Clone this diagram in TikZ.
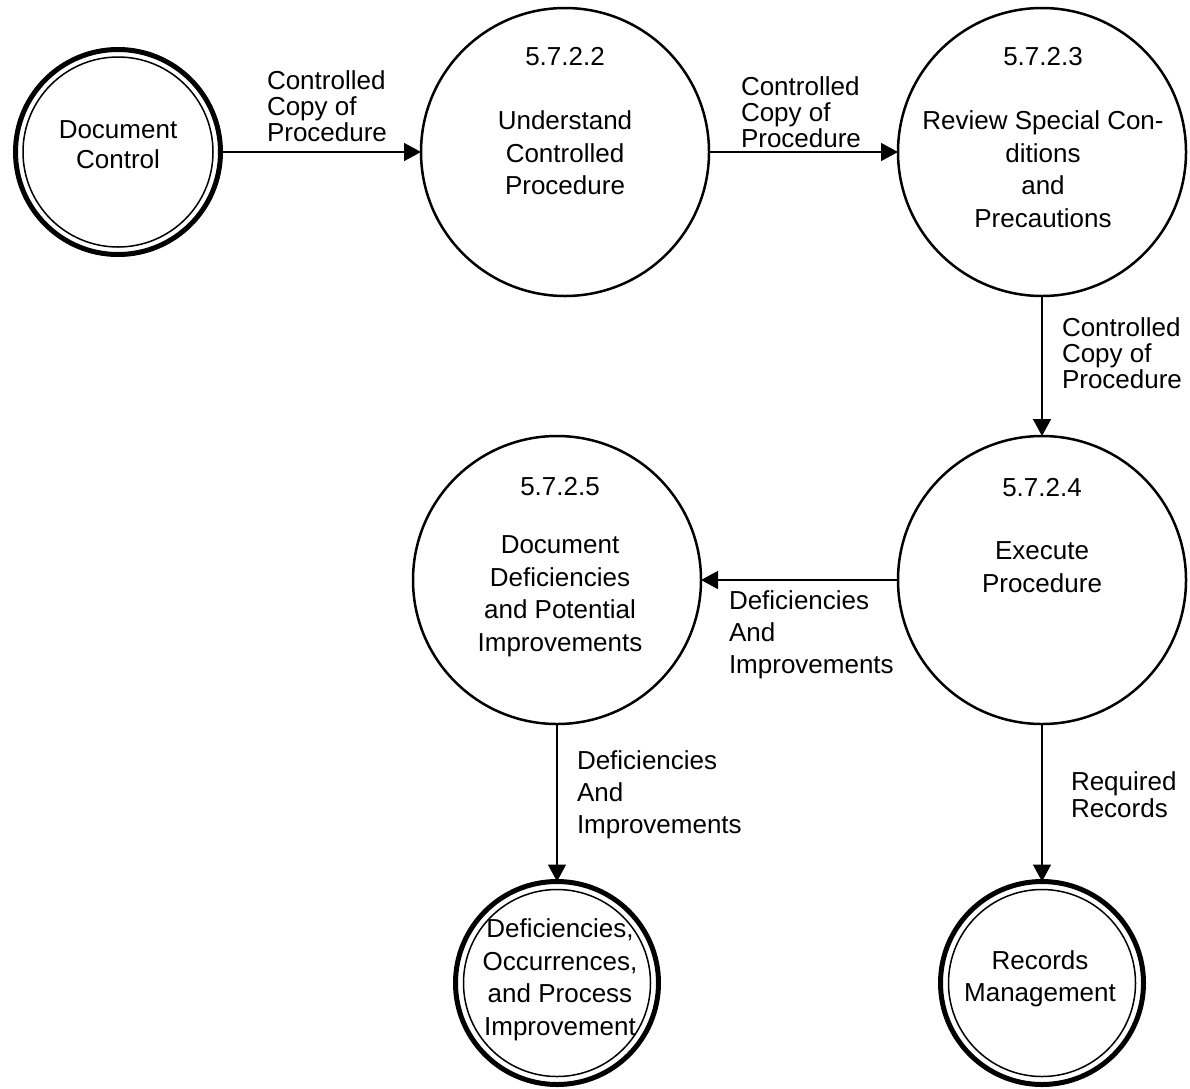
\documentclass[tikz,border=0pt]{standalone}
\usepackage{fontspec}
\setmainfont{Liberation Sans}
\usetikzlibrary{arrows.meta}
\begin{document}
\begin{tikzpicture}[x=1pt,y=-1pt,
  every node/.style={inner sep=0pt, outer sep=0pt},
  process/.style={circle, draw, line width=2.5pt, minimum size=288pt},
  terminator/.style={circle, draw, line width=5pt, minimum size=#1},
  txt/.style={font=\fontsize{26}{32.5}\selectfont, align=center},
  flowlbl/.style={font=\fontsize{26}{26}\selectfont, align=left, anchor=west},
  flow/.style={line width=1.5pt, -{Triangle[length=17pt,width=18pt]}}
]
\useasboundingbox (0,0) rectangle (1190,1088);

% external entities (double rings)
\node[terminator=205pt] (dc)  at (118,152) {};
\draw[line width=1.5pt] (dc.center) circle (95);
\node[terminator=203pt] (dpi) at (557,983) {};
\draw[line width=1.5pt] (dpi.center) circle (93.5);
\node[terminator=203pt] (rm)  at (1042,983) {};
\draw[line width=1.5pt] (rm.center) circle (93.5);

% processes
\node[process] (p2) at (565,152) {};
\node[process] (p3) at (1042,152) {};
\node[process] (p4) at (1042,580) {};
\node[process] (p5) at (557,580) {};

% texts inside the circles
\node[txt] (dct) at (118,145) {Document\\[-2.5pt]Control};
\node[txt] (p2n) at (565,57) {5.7.2.2};
\node[txt] (p2t) at (565,153) {Understand\\Controlled\\Procedure};
\node[txt] (p3n) at (1043,57) {5.7.2.3};
\node[txt] (p3t) at (1043,169) {Review Special Con-\\ditions\\and\\Precautions};
\node[txt] (p4n) at (1042,488) {5.7.2.4};
\node[txt] (p4t) at (1042,567) {Execute\\Procedure};
\node[txt] (p5n) at (560,487) {5.7.2.5};
\node[txt] (p5t) at (560,596) {Document\\Deficiencies\\and Potential\\Improvements};
\node[txt] (dpit) at (560,980) {Deficiencies,\\Occurrences,\\and Process\\Improvement};
\node[txt] (rmt) at (1040,979) {Records\\Management};

% data flows
\draw[flow] (dc) -- (p2);
\draw[flow] (p2) -- (p3);
\draw[flow] (p3) -- (p4);
\draw[flow] (p4) -- (p5);
\draw[flow] (p5) -- (dpi);
\draw[flow] (p4) -- (rm);

% flow labels
\node[flowlbl] (l1) at (267,106) {Controlled\\Copy of\\Procedure};
\node[flowlbl] (l2) at (741,112) {Controlled\\Copy of\\Procedure};
\node[flowlbl] (l3) at (1062,353) {Controlled\\Copy of\\Procedure};
\node[flowlbl, font=\fontsize{26}{32}\selectfont] (l4) at (729,635) {Deficiencies\\And\\Improvements};
\node[flowlbl, font=\fontsize{26}{32}\selectfont] (l5) at (577,795) {Deficiencies\\And\\Improvements};
\node[flowlbl, font=\fontsize{26}{27}\selectfont] (l6) at (1071,795) {Required\\Records};
\end{tikzpicture}
\end{document}
